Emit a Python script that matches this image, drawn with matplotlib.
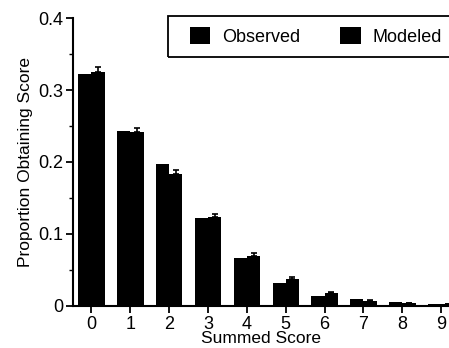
import numpy as np
import matplotlib.pyplot as plt
from matplotlib.patches import Rectangle

plt.rcParams['font.family'] = ['Liberation Sans', 'DejaVu Sans']

# data
scores = np.arange(10)
observed = [0.322, 0.243, 0.197, 0.122, 0.066, 0.0315, 0.0143, 0.0097, 0.005, 0.0027]
modeled = [0.325, 0.242, 0.184, 0.124, 0.070, 0.0375, 0.0176, 0.0074, 0.0037, 0.0023]
modeled_err = [0.007, 0.005, 0.005, 0.004, 0.003, 0.002, 0.0015, 0.001, 0.0008, 0.0005]

fig = plt.figure(figsize=(4.49, 3.48), dpi=100)
ax = fig.add_axes([0.163, 0.121, 0.837, 0.827])

w = 0.34
ax.bar(scores - w/2, observed, w, color='black', label='Observed')
ax.bar(scores + w/2, modeled, w, color='black', label='Modeled')
ax.errorbar(scores + w/2, modeled, yerr=[np.zeros(10), modeled_err], fmt='none',
            ecolor='black', elinewidth=1.2, capsize=2.5, capthick=1.2)

ax.set_xlim(-0.47, 9.2)
ax.set_ylim(0, 0.4)
ax.set_xticks(scores)
ax.set_yticks([0, 0.1, 0.2, 0.3, 0.4])
ax.set_yticklabels(['0', '0.1', '0.2', '0.3', '0.4'])
ax.set_yticks(np.arange(0.05, 0.4, 0.1), minor=True)
ax.tick_params(labelsize=13, width=1.3, length=5, direction='out', pad=2)
ax.tick_params(which='minor', length=3, width=1)
ax.spines['top'].set_visible(False)
ax.spines['right'].set_visible(False)
ax.spines['left'].set_linewidth(1.5)
ax.spines['bottom'].set_linewidth(1.5)

ax.set_xlabel('Summed Score', fontsize=12.5, labelpad=-1)
ax.set_ylabel('Proportion Obtaining Score', fontsize=12.5, labelpad=4)

# legend box runs off the right edge
ax.add_patch(Rectangle((0.253, 0.865), 0.8, 0.142, transform=ax.transAxes,
                       fill=False, edgecolor='black', lw=1.3, clip_on=False))
ax.legend(ncol=2, loc='center left', bbox_to_anchor=(0.31, 0.936),
          frameon=False, fontsize=13, handlelength=1.15, handleheight=1.1,
          handletextpad=0.65, columnspacing=2.2, borderpad=0, borderaxespad=0)

fig.savefig('out.png', dpi=100)
